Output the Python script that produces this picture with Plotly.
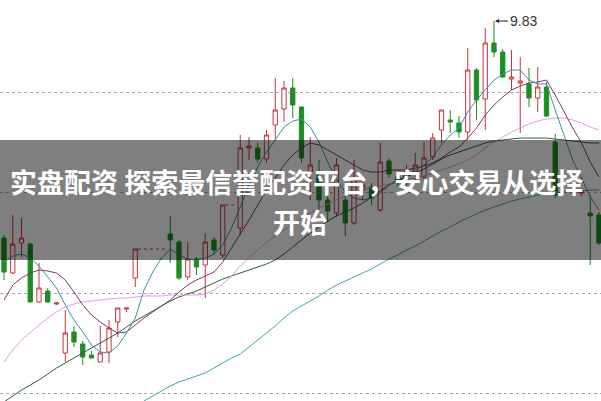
import plotly.graph_objects as go

# ---- candle data (day index, OHLC) ----
days = [0, 1, 2, 3, 4, 5, 6, 7, 8, 9, 10, 11, 12, 13, 14, 15,
        19, 20, 21, 22, 23, 24, 25,
        27, 28, 29, 30, 31, 32, 33, 34, 35, 36, 37, 38, 39, 40, 41, 42, 43, 44,
        45, 46, 47, 48, 49, 50, 51, 52, 53, 54, 55, 56, 57, 58, 59, 60, 61, 62, 63,
        65, 66, 67, 68]
open_ = [7.66, 7.31, 7.61, 7.60, 7.02, 7.13, 7.00, 6.51, 6.72, 6.60, 6.49, 6.42, 6.52, 6.82, 6.95, 7.26,
         7.70, 7.62, 7.27, 7.45, 7.39, 7.64, 7.49,
         7.76, 8.56, 8.56, 8.45, 8.79, 8.95, 9.16, 8.97, 8.32, 8.29, 8.04, 7.91, 8.04, 7.81, 8.14, 8.17, 7.94, 8.43,
         8.27, 8.26, 8.32, 8.27, 8.47, 8.74, 8.84, 8.81, 8.72, 9.34, 9.05, 9.61, 9.52, 9.25, 9.21, 9.20, 9.06, 9.17, 8.62,
         8.115, 8.11, 7.91, 7.89]
high = [7.69, 7.89, 7.86, 7.61, 7.41, 7.16, 7.02, 6.94, 6.78, 6.63, 6.53, 6.78, 6.84, 6.96, 6.96, 7.55,
        7.88, 7.64, 7.62, 7.47, 7.71, 7.67, 7.99,
        8.69, 8.67, 8.61, 8.74, 9.26, 9.23, 9.26, 8.97, 8.67, 8.44, 8.17, 8.46, 8.14, 8.44, 8.24, 8.21, 8.61, 8.46,
        8.32, 8.39, 8.51, 8.62, 8.71, 8.94, 8.94, 8.88, 9.56, 9.36, 9.76, 9.83, 9.55, 9.54, 9.47, 9.36, 9.37, 9.22, 8.70,
        8.13, 8.16, 8.09, 7.92]
low = [7.24, 7.30, 7.47, 7.02, 7.01, 7.01, 6.99, 6.42, 6.57, 6.39, 6.46, 6.42, 6.41, 6.67, 6.92, 7.17,
       7.41, 7.24, 7.24, 7.29, 7.06, 7.49, 7.46,
       7.69, 8.44, 8.41, 8.41, 8.64, 8.82, 8.86, 8.41, 8.04, 7.94, 7.82, 7.87, 7.68, 7.79, 8.04, 7.99, 7.92, 8.26,
       8.18, 8.14, 8.21, 8.24, 8.44, 8.61, 8.71, 8.66, 8.64, 8.84, 8.74, 9.47, 9.26, 9.14, 8.71, 8.97, 8.92, 8.87, 8.06,
       8.11, 8.08, 7.39, 7.59]
close = [7.32, 7.60, 7.66, 7.02, 7.16, 7.02, 7.01, 6.71, 6.62, 6.47, 6.46, 6.51, 6.76, 6.96, 6.96, 7.55,
         7.64, 7.26, 7.45, 7.37, 7.62, 7.54, 7.99,
         8.56, 8.58, 8.45, 8.69, 8.94, 9.16, 8.99, 8.46, 8.39, 8.04, 7.93, 8.39, 7.81, 8.25, 8.19, 8.06, 8.42, 8.30,
         8.22, 8.34, 8.39, 8.46, 8.66, 8.94, 8.82, 8.72, 9.34, 9.04, 9.61, 9.52, 9.27, 9.27, 9.23, 9.06, 9.17, 8.88, 8.09,
         8.125, 8.12, 7.88, 7.61]

# ---- moving-average lines ----
ma_days = list(range(0, 69))
ma5 = [7.42, 7.48, 7.50, 7.46, 7.38, 7.27, 7.16, 6.99, 6.84, 6.72, 6.59, 6.52, 6.51, 6.58, 6.71, 6.86,
       7.14, 7.32, 7.46, 7.55, 7.49, 7.45, 7.44, 7.46, 7.50, 7.59, 7.76, 7.97, 8.19, 8.37, 8.52, 8.64,
       8.77, 8.83, 8.85, 8.77, 8.62, 8.42, 8.24, 8.12, 8.06, 8.04, 8.06, 8.11, 8.19, 8.24, 8.29, 8.34,
       8.39, 8.47, 8.59, 8.69, 8.76, 8.92, 9.04, 9.14, 9.24, 9.30, 9.34, 9.34, 9.24, 9.20, 9.20, 8.94,
       8.69, 8.44, 8.26, 8.07, 7.94]
ma10 = [7.04, 7.19, 7.26, 7.31, 7.34, 7.33, 7.31, 7.24, 7.12, 6.99, 6.89, 6.82, 6.76, 6.71, 6.72, 6.79,
        6.86, 6.92, 6.98, 7.04, 7.12, 7.19, 7.24, 7.28, 7.32, 7.42, 7.56, 7.69, 7.84, 7.99, 8.14, 8.26,
        8.39, 8.49, 8.56, 8.61, 8.59, 8.54, 8.49, 8.44, 8.39, 8.34, 8.32, 8.32, 8.34, 8.34, 8.34, 8.36,
        8.38, 8.41, 8.46, 8.52, 8.57, 8.66, 8.76, 8.89, 8.99, 9.07, 9.14, 9.18, 9.21, 9.22, 9.24, 9.09,
        8.92, 8.76, 8.61, 8.42, 8.27]
ma20 = [6.42, 6.54, 6.64, 6.72, 6.79, 6.86, 6.92, 6.97, 7.00, 7.02, 7.03, 7.04, 7.05, 7.06, 7.06, 7.07,
        7.08, 7.08, 7.08, 7.09, 7.09, 7.09, 7.09, 7.10, 7.14, 7.20, 7.28, 7.38, 7.46, 7.54, 7.62, 7.68,
        7.74, 7.80, 7.86, 7.91, 7.96, 8.00, 8.04, 8.08, 8.11, 8.14, 8.16, 8.18, 8.20, 8.22, 8.24, 8.26,
        8.28, 8.31, 8.34, 8.37, 8.40, 8.44, 8.49, 8.56, 8.62, 8.67, 8.72, 8.76, 8.80, 8.83, 8.85, 8.86,
        8.86, 8.84, 8.81, 8.77, 8.74]
ma30 = [6.02, 6.08, 6.14, 6.19, 6.24, 6.30, 6.36, 6.41, 6.46, 6.51, 6.56, 6.61, 6.66, 6.71, 6.77, 6.83,
        6.88, 6.93, 6.98, 7.03, 7.07, 7.10, 7.13, 7.17, 7.21, 7.25, 7.28, 7.31, 7.34, 7.37, 7.40, 7.44,
        7.50, 7.57, 7.64, 7.71, 7.77, 7.83, 7.88, 7.92, 7.96, 8.01, 8.07, 8.13, 8.19, 8.23, 8.27, 8.31,
        8.35, 8.40, 8.45, 8.49, 8.52, 8.55, 8.58, 8.61, 8.63, 8.64, 8.65, 8.66, 8.66, 8.66, 8.66, 8.65,
        8.64, 8.63, 8.62, 8.61, 8.61]
ma60_days = list(range(16, 69))
ma60 = [6.03, 6.08, 6.13, 6.18, 6.22, 6.25, 6.28, 6.31, 6.36, 6.41, 6.46, 6.50, 6.57, 6.64, 6.71, 6.78,
        6.86, 6.93, 6.98, 7.03, 7.08, 7.14, 7.19, 7.23, 7.27, 7.31, 7.35, 7.40, 7.45, 7.49, 7.54, 7.58,
        7.63, 7.68, 7.73, 7.77, 7.82, 7.86, 7.90, 7.94, 7.97, 8.00, 8.03, 8.05, 8.07, 8.09, 8.10, 8.11,
        8.12, 8.13, 8.13, 8.14, 8.14]

# dashed reference levels next to two candles
dash1_x = [15.3, 18.6]
dash1_y = [7.55, 7.55]
dash2_x = [25.3, 26.3]
dash2_y = [7.99, 7.99]

grid_levels = [9.12, 8.12, 7.11, 6.11]
peak_day = 56
peak_val = 9.83

banner_line1 = "实盘配资 探索最信誉配资平台，安心交易从选择"
banner_line2 = "开始"

RED = "#c8333d"
GREEN = "#1e8e24"

fig = go.Figure()
fig.add_trace(go.Candlestick(
    x=days, open=open_, high=high, low=low, close=close,
    increasing=dict(line=dict(color=RED, width=1), fillcolor="white"),
    decreasing=dict(line=dict(color=GREEN, width=1), fillcolor=GREEN),
    whiskerwidth=0, showlegend=False, hoverinfo="skip"))

for xs, ys in [(dash1_x, dash1_y), (dash2_x, dash2_y)]:
    fig.add_trace(go.Scatter(x=xs, y=ys, mode="lines",
                             line=dict(color=RED, width=1, dash="3px,3px"),
                             showlegend=False, hoverinfo="skip"))

line_specs = [
    (ma_days, ma30, "#2f5f38"),
    (ma60_days, ma60, "#45a3ad"),
    (ma_days, ma20, "#e39be3"),
    (ma_days, ma10, "#7b3a68"),
    (ma_days, ma5, "#3d93a0"),
]
for xs, ys, col in line_specs:
    fig.add_trace(go.Scatter(x=xs, y=ys, mode="lines",
                             line=dict(color=col, width=1),
                             showlegend=False, hoverinfo="skip"))

fig.add_annotation(x=peak_day, y=peak_val, xref="x", yref="y",
                   text="9.83", showarrow=True, ax=14, ay=0,
                   arrowhead=2, arrowsize=0.8, arrowwidth=1, arrowcolor="#222",
                   font=dict(family="Liberation Sans, Arial", size=14, color="#333"),
                   xanchor="left", standoff=1)

# grey banner
fig.add_shape(type="rect", xref="paper", yref="paper", x0=0, x1=1,
              y0=1 - 260 / 401, y1=1 - 140 / 401,
              fillcolor="rgba(0,0,0,0.5)", line=dict(width=0), layer="above")
fig.add_annotation(xref="paper", yref="paper", x=296 / 601, y=1 - 181 / 401,
                   text="<b>" + banner_line1 + "</b>", showarrow=False,
                   font=dict(family="Noto Sans CJK SC", size=27, color="white"))
fig.add_annotation(xref="paper", yref="paper", x=300 / 601, y=1 - 221 / 401,
                   text="<b>" + banner_line2 + "</b>", showarrow=False,
                   font=dict(family="Noto Sans CJK SC", size=27, color="white"))

fig.update_layout(
    width=601, height=401, margin=dict(l=0, r=0, t=0, b=0),
    paper_bgcolor="white", plot_bgcolor="white",
    xaxis=dict(range=[-0.457, 68.23], showgrid=False, zeroline=False,
               showticklabels=False, rangeslider=dict(visible=False), fixedrange=True),
    yaxis=dict(range=[6.03, 10.04], tickvals=grid_levels, showgrid=True,
               gridcolor="#a8a8a8", gridwidth=1, griddash="dot",
               zeroline=False, showticklabels=False, fixedrange=True),
)

fig.write_html("out.html", config={"displayModeBar": False},
               post_script="document.body.style.margin='0px';document.body.style.overflow='hidden';")
